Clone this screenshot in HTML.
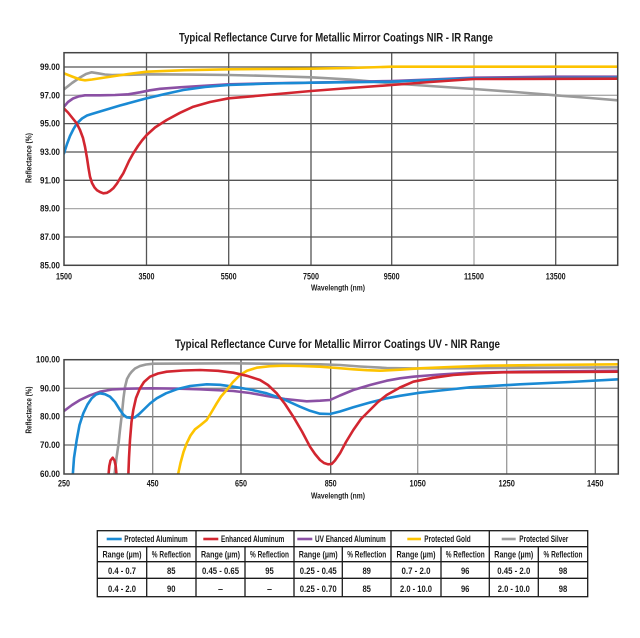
<!DOCTYPE html>
<html>
<head>
<meta charset="utf-8">
<style>
html,body{margin:0;padding:0;background:#fff;width:640px;height:638px;overflow:hidden;}
svg{display:block;}
text{font-family:"Liberation Sans Narrow","Liberation Sans",sans-serif;font-weight:bold;fill:#1a1a1a;}
</style>
</head>
<body>
<svg width="640" height="638" viewBox="0 0 640 638" xmlns="http://www.w3.org/2000/svg">
<defs>
<clipPath id="c1"><rect x="64" y="52.7" width="553.7" height="212.6"/></clipPath>
<clipPath id="c2"><rect x="64" y="359.7" width="554.3" height="114.3"/></clipPath>
</defs>
<rect width="640" height="638" fill="#fff"/>

<!-- ============ TOP CHART ============ -->
<text x="336" y="41.5" font-size="11.5" text-anchor="middle" textLength="314" lengthAdjust="spacingAndGlyphs">Typical Reflectance Curve for Metallic Mirror Coatings NIR - IR Range</text>

<g stroke-width="1.3" fill="none">
<line x1="64" y1="67" x2="617.7" y2="67" stroke="#555"/>
<line x1="64" y1="95.3" x2="617.7" y2="95.3" stroke="#aaa"/>
<line x1="64" y1="123.6" x2="617.7" y2="123.6" stroke="#555"/>
<line x1="64" y1="152" x2="617.7" y2="152" stroke="#555"/>
<line x1="64" y1="180.3" x2="617.7" y2="180.3" stroke="#555"/>
<line x1="64" y1="208.6" x2="617.7" y2="208.6" stroke="#aaa"/>
<line x1="64" y1="237" x2="617.7" y2="237" stroke="#555"/>
<line x1="146.5" y1="52.7" x2="146.5" y2="265.3" stroke="#555"/>
<line x1="228.7" y1="52.7" x2="228.7" y2="265.3" stroke="#555"/>
<line x1="311" y1="52.7" x2="311" y2="265.3" stroke="#555"/>
<line x1="391.7" y1="52.7" x2="391.7" y2="265.3" stroke="#555"/>
<line x1="474" y1="52.7" x2="474" y2="265.3" stroke="#aaa"/>
<line x1="555.7" y1="52.7" x2="555.7" y2="265.3" stroke="#555"/>
</g>

<g clip-path="url(#c1)" fill="none" stroke-width="2.6" stroke-linejoin="round" stroke-linecap="round">
<polyline stroke="#9b9b9b" points="64,89.3 72,83 80,77.5 86,74 91.7,72.3 98,73.3 105,74.5 112,75 130,74.8 146.7,74.3 190,74.6 228.7,75 270,76 311,77.3 350,79.5 391.7,83.3 430,86 474,89 515,92 555.7,95.3 590,98 617.7,100.3"/>
<polyline stroke="#8b50a4" points="64,106.7 68,102 73,98.5 79,96.3 85,95.3 100,95.3 115,95 128.3,94.3 140,92.3 150,90.3 160,88.8 180,87.3 200,86 228.7,84.3 270,83.3 311,82.7 391.7,81 430,79.5 474,77.7 555.7,76.7 617.7,76.7"/>
<polyline stroke="#1a8ad4" points="64,153.3 67,144 70,136 73.5,129 77,123.3 82,118.5 87,115.5 91.7,114 100,111.5 110,108.5 120,105.5 128.3,103.3 146.7,98.3 165,94 183.3,90 205,87 228.7,85 270,83.5 311,82.7 391.7,81.7 430,80 474,78.3 617.7,77.7"/>
<polyline stroke="#fdc300" points="64,73.3 72,76.5 80,79.5 85,80.3 92,79.5 105,77.5 125,74.5 146.7,71.7 185,70.2 228.7,69.3 270,68.9 311,68.7 350,68 391.7,66.7 617.7,66.7"/>
<polyline stroke="#d22630" points="64,108.5 68,112.5 72,117.5 76.7,123.3 80,130 83,138 85,146.7 87,158 88.5,168 90,176.7 92,183 94.5,187.5 97,190.2 100,192 103.3,193.3 107,192.8 110,191 113.3,188.3 117,183.5 120,178.5 123.3,173.3 126,167.5 129,161 133.3,153.3 138,146 142,140.5 146.7,135 155,127.5 166.7,120 180,112.8 193.3,106.7 210,102 228.7,98.3 266.7,95 311,91 350,88 391.7,85 430,82 474,79 617.7,78.7"/>
</g>

<rect x="64" y="52.7" width="553.7" height="212.6" fill="none" stroke="#444" stroke-width="1.5"/>

<g font-size="9" text-anchor="end">
<text x="60" y="70" textLength="20" lengthAdjust="spacingAndGlyphs">99.00</text>
<text x="60" y="98.3" textLength="20" lengthAdjust="spacingAndGlyphs">97.00</text>
<text x="60" y="126.6" textLength="20" lengthAdjust="spacingAndGlyphs">95.00</text>
<text x="60" y="155" textLength="20" lengthAdjust="spacingAndGlyphs">93.00</text>
<text x="60" y="183.3" textLength="20" lengthAdjust="spacingAndGlyphs">91.00</text>
<text x="60" y="211.6" textLength="20" lengthAdjust="spacingAndGlyphs">89.00</text>
<text x="60" y="240" textLength="20" lengthAdjust="spacingAndGlyphs">87.00</text>
<text x="60" y="268.3" textLength="20" lengthAdjust="spacingAndGlyphs">85.00</text>
</g>
<g font-size="9" text-anchor="middle">
<text x="64" y="279.5" textLength="16" lengthAdjust="spacingAndGlyphs">1500</text>
<text x="146.5" y="279.5" textLength="16" lengthAdjust="spacingAndGlyphs">3500</text>
<text x="228.7" y="279.5" textLength="16" lengthAdjust="spacingAndGlyphs">5500</text>
<text x="311" y="279.5" textLength="16" lengthAdjust="spacingAndGlyphs">7500</text>
<text x="391.7" y="279.5" textLength="16" lengthAdjust="spacingAndGlyphs">9500</text>
<text x="474" y="279.5" textLength="20" lengthAdjust="spacingAndGlyphs">11500</text>
<text x="555.7" y="279.5" textLength="20" lengthAdjust="spacingAndGlyphs">13500</text>
</g>
<text x="338" y="290.5" font-size="8.5" text-anchor="middle" textLength="54" lengthAdjust="spacingAndGlyphs">Wavelength (nm)</text>
<text transform="translate(31.5,158) rotate(-90)" font-size="8.5" text-anchor="middle" textLength="50" lengthAdjust="spacingAndGlyphs">Reflectance (%)</text>

<!-- ============ BOTTOM CHART ============ -->
<text x="337.5" y="348" font-size="11.5" text-anchor="middle" textLength="325" lengthAdjust="spacingAndGlyphs">Typical Reflectance Curve for Metallic Mirror Coatings UV - NIR Range</text>

<g stroke-width="1.3" fill="none">
<line x1="64" y1="388.3" x2="618.3" y2="388.3" stroke="#888"/>
<line x1="64" y1="416.7" x2="618.3" y2="416.7" stroke="#777"/>
<line x1="64" y1="445" x2="618.3" y2="445" stroke="#666"/>
<line x1="152.7" y1="359.7" x2="152.7" y2="474" stroke="#888"/>
<line x1="241" y1="359.7" x2="241" y2="474" stroke="#555"/>
<line x1="330.7" y1="359.7" x2="330.7" y2="474" stroke="#555"/>
<line x1="417.7" y1="359.7" x2="417.7" y2="474" stroke="#999"/>
<line x1="506.7" y1="359.7" x2="506.7" y2="474" stroke="#999"/>
<line x1="595.3" y1="359.7" x2="595.3" y2="474" stroke="#666"/>
</g>

<g clip-path="url(#c2)" fill="none" stroke-width="2.6" stroke-linejoin="round" stroke-linecap="round">
<polyline stroke="#9b9b9b" points="114.3,476 116.5,458 118.5,444 120,430 122,413 123.5,398 125,387 127,379 129.5,374.5 131.7,371.7 135,368.5 140,366 146,364.5 153.3,363.7 233.3,363.3 320,364.3 340,365 360,366.5 386.7,368 420,368.5 453.3,368.3 520,367.8 618.3,367.3"/>
<polyline stroke="#8b50a4" points="64,411 72,405 80,400 90,395.3 100,391.7 112,389.5 126.7,388.7 150,388.3 175,388.6 200,389.3 233.3,391 250,393 266.7,396 285,399 306.7,401.3 320,400.7 330,400 340,395.5 353.3,390 370,385 386.7,380.7 400,378.3 413.3,376.7 440,374.5 470,372.7 520,371.7 618.3,370.8"/>
<polyline stroke="#1a8ad4" points="72.7,476 74,458 76.7,440 79.5,425 83.3,413.3 87.5,404.5 91.7,398.3 96,394.5 100,393.3 105,394.2 110,396.7 115,402 120,410 123.5,414.8 126.7,417.3 131,418 135,417.3 139,414.2 143.3,410 150,403.5 156.7,398.3 166,393.3 176.7,389.3 190,386 206.7,384.3 220,384.8 233.3,386.7 250,389.5 266.7,393.3 283,399 300,406.7 310,410.8 320,413.7 330,414 340,411.5 353.3,407.3 370,402.5 386.7,398.3 400,395.8 420,392.7 445,390 470,387.3 520,384.3 570,382 618.3,379.3"/>
<polyline stroke="#fdc300" points="177.7,476 180.5,463 183.5,452 186.7,443.3 190.5,435.5 195,429.3 200,425.5 206.7,420 211,413 216.7,403.3 221,396.5 226.7,390 233,382 240,375 247,370.8 256.7,367.7 270,366.2 283.3,365.7 300,366 320,366.7 337,368 353.3,369.3 367,370.2 380,370.7 400,369.7 420,368.3 450,367 486.7,365.7 540,365 618.3,364.3"/>
<polyline stroke="#d22630" points="108.3,477 109.3,466 110.5,460.5 112.7,457.7 114.5,460.5 115.7,466 116.7,477"/>
<polyline stroke="#d22630" points="128.3,476 129,458 130,440 131.5,422 133.3,410 136,398 140,388.3 144,382 150,376.7 158,373.5 166.7,371.7 183,370.5 200,370 218,370.8 233.3,372.7 247,375.8 260,380 268,385 276.7,393.3 285,404 293.3,416.7 302,431.5 310,446.7 315,454 320,460 324,463 328,464.3 331.7,464 335,460.5 340,453.3 346,442 353.3,430 361,419 370,410 378,402 386.7,395 400,387.5 413.3,381.7 433,377.8 453.3,375 478,373.3 503.3,372.3 618.3,371.7"/>
</g>

<rect x="64" y="359.7" width="554.3" height="114.3" fill="none" stroke="#444" stroke-width="1.5"/>

<g font-size="9" text-anchor="end">
<text x="60" y="362.7" textLength="24" lengthAdjust="spacingAndGlyphs">100.00</text>
<text x="60" y="391.3" textLength="20" lengthAdjust="spacingAndGlyphs">90.00</text>
<text x="60" y="419.7" textLength="20" lengthAdjust="spacingAndGlyphs">80.00</text>
<text x="60" y="448" textLength="20" lengthAdjust="spacingAndGlyphs">70.00</text>
<text x="60" y="477" textLength="20" lengthAdjust="spacingAndGlyphs">60.00</text>
</g>
<g font-size="9" text-anchor="middle">
<text x="64" y="486.5" textLength="12" lengthAdjust="spacingAndGlyphs">250</text>
<text x="152.7" y="486.5" textLength="12" lengthAdjust="spacingAndGlyphs">450</text>
<text x="241" y="486.5" textLength="12" lengthAdjust="spacingAndGlyphs">650</text>
<text x="330.7" y="486.5" textLength="12" lengthAdjust="spacingAndGlyphs">850</text>
<text x="417.7" y="486.5" textLength="16.5" lengthAdjust="spacingAndGlyphs">1050</text>
<text x="506.7" y="486.5" textLength="16.5" lengthAdjust="spacingAndGlyphs">1250</text>
<text x="595.3" y="486.5" textLength="16.5" lengthAdjust="spacingAndGlyphs">1450</text>
</g>
<text x="338" y="498.5" font-size="8.5" text-anchor="middle" textLength="54" lengthAdjust="spacingAndGlyphs">Wavelength (nm)</text>
<text transform="translate(31.5,410) rotate(-90)" font-size="8.5" text-anchor="middle" textLength="47" lengthAdjust="spacingAndGlyphs">Reflectance (%)</text>

<!-- ============ TABLE ============ -->
<g stroke="#1a1a1a" stroke-width="1.3" fill="none">
<rect x="97.3" y="530.7" width="490.4" height="66"/>
<line x1="97.3" y1="546.7" x2="587.7" y2="546.7"/>
<line x1="97.3" y1="561.7" x2="587.7" y2="561.7"/>
<line x1="97.3" y1="578.3" x2="587.7" y2="578.3"/>
<line x1="196" y1="530.7" x2="196" y2="596.7"/>
<line x1="294" y1="530.7" x2="294" y2="596.7"/>
<line x1="391" y1="530.7" x2="391" y2="596.7"/>
<line x1="489.3" y1="530.7" x2="489.3" y2="596.7"/>
<line x1="146.7" y1="546.7" x2="146.7" y2="596.7"/>
<line x1="245" y1="546.7" x2="245" y2="596.7"/>
<line x1="342.3" y1="546.7" x2="342.3" y2="596.7"/>
<line x1="441" y1="546.7" x2="441" y2="596.7"/>
<line x1="538.3" y1="546.7" x2="538.3" y2="596.7"/>
</g>
<g stroke-width="2.6">
<line x1="106.7" y1="539" x2="121.7" y2="539" stroke="#1a8ad4"/>
<line x1="203.3" y1="539" x2="218.3" y2="539" stroke="#d22630"/>
<line x1="297.3" y1="539" x2="312.3" y2="539" stroke="#8b50a4"/>
<line x1="407.3" y1="539" x2="421" y2="539" stroke="#fdc300"/>
<line x1="501.7" y1="539" x2="515.7" y2="539" stroke="#9b9b9b"/>
</g>
<g font-size="9">
<text x="124.3" y="542" textLength="63.4" lengthAdjust="spacingAndGlyphs">Protected Aluminum</text>
<text x="221" y="542" textLength="63.3" lengthAdjust="spacingAndGlyphs">Enhanced Aluminum</text>
<text x="315" y="542" textLength="70.7" lengthAdjust="spacingAndGlyphs">UV Ehanced Aluminum</text>
<text x="424.3" y="542" textLength="46.4" lengthAdjust="spacingAndGlyphs">Protected Gold</text>
<text x="519.3" y="542" textLength="49" lengthAdjust="spacingAndGlyphs">Protected Silver</text>
</g>
<g font-size="9" text-anchor="middle">
<text x="122" y="557.5" textLength="39" lengthAdjust="spacingAndGlyphs">Range (µm)</text>
<text x="171.3" y="557.5" textLength="39" lengthAdjust="spacingAndGlyphs">% Reflection</text>
<text x="220.5" y="557.5" textLength="39" lengthAdjust="spacingAndGlyphs">Range (µm)</text>
<text x="269.5" y="557.5" textLength="39" lengthAdjust="spacingAndGlyphs">% Reflection</text>
<text x="318.2" y="557.5" textLength="39" lengthAdjust="spacingAndGlyphs">Range (µm)</text>
<text x="366.7" y="557.5" textLength="39" lengthAdjust="spacingAndGlyphs">% Reflection</text>
<text x="416" y="557.5" textLength="39" lengthAdjust="spacingAndGlyphs">Range (µm)</text>
<text x="465.2" y="557.5" textLength="39" lengthAdjust="spacingAndGlyphs">% Reflection</text>
<text x="513.8" y="557.5" textLength="39" lengthAdjust="spacingAndGlyphs">Range (µm)</text>
<text x="563" y="557.5" textLength="39" lengthAdjust="spacingAndGlyphs">% Reflection</text>

<text x="122" y="574" textLength="28" lengthAdjust="spacingAndGlyphs">0.4 - 0.7</text>
<text x="171.3" y="574" textLength="8.5" lengthAdjust="spacingAndGlyphs">85</text>
<text x="220.5" y="574" textLength="37" lengthAdjust="spacingAndGlyphs">0.45 - 0.65</text>
<text x="269.5" y="574" textLength="8.5" lengthAdjust="spacingAndGlyphs">95</text>
<text x="318.2" y="574" textLength="37" lengthAdjust="spacingAndGlyphs">0.25 - 0.45</text>
<text x="366.7" y="574" textLength="8.5" lengthAdjust="spacingAndGlyphs">89</text>
<text x="416" y="574" textLength="29" lengthAdjust="spacingAndGlyphs">0.7 - 2.0</text>
<text x="465.2" y="574" textLength="8.5" lengthAdjust="spacingAndGlyphs">96</text>
<text x="513.8" y="574" textLength="33" lengthAdjust="spacingAndGlyphs">0.45 - 2.0</text>
<text x="563" y="574" textLength="8.5" lengthAdjust="spacingAndGlyphs">98</text>

<text x="122" y="592" textLength="28" lengthAdjust="spacingAndGlyphs">0.4 - 2.0</text>
<text x="171.3" y="592" textLength="8.5" lengthAdjust="spacingAndGlyphs">90</text>
<text x="220.5" y="592">–</text>
<text x="269.5" y="592">–</text>
<text x="318.2" y="592" textLength="37" lengthAdjust="spacingAndGlyphs">0.25 - 0.70</text>
<text x="366.7" y="592" textLength="8.5" lengthAdjust="spacingAndGlyphs">85</text>
<text x="416" y="592" textLength="32" lengthAdjust="spacingAndGlyphs">2.0 - 10.0</text>
<text x="465.2" y="592" textLength="8.5" lengthAdjust="spacingAndGlyphs">96</text>
<text x="513.8" y="592" textLength="32" lengthAdjust="spacingAndGlyphs">2.0 - 10.0</text>
<text x="563" y="592" textLength="8.5" lengthAdjust="spacingAndGlyphs">98</text>
</g>
</svg>
</body>
</html>
